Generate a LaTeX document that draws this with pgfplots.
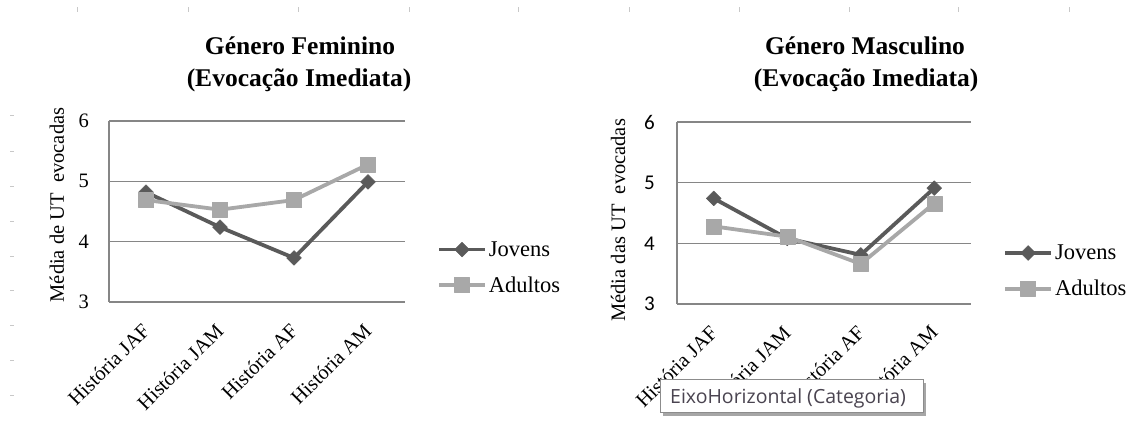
\documentclass[border=0pt]{standalone}
\usepackage{fontspec}
\setmainfont{Liberation Serif}
\newfontfamily\carlito{Carlito}
\newfontfamily\tipfont{Open Sans}
\usepackage{pgfplots}
\pgfplotsset{compat=1.18}
\definecolor{jov}{HTML}{5A5A5A}
\definecolor{adu}{HTML}{A8A8A8}
\definecolor{gridc}{HTML}{868686}
\definecolor{tipc}{HTML}{4A4450}
\definecolor{ruler}{HTML}{C8C8C8}

\pgfplotsset{
  panel/.style={
    scale only axis,
    xmin=-0.5, xmax=3.5, ymin=3, ymax=6,
    xtick={0,1,2,3},
    xticklabels={História JAF,História JAM,História AF,História AM},
    ytick={3,4,5,6}, yticklabels={3,4,5,6},
    axis x line*=bottom, axis y line*=left,
    axis line style={draw=gridc, line width=1.3pt, -},
    ymajorgrids, grid style={draw=gridc, line width=1.3pt},
    major tick length=0pt,
    x tick label style={font=\fontsize{20.5}{24}\selectfont, inner sep=0pt, anchor=east, yshift=-25pt, rotate=45},
    clip=false,
    legend cell align=left,
    legend image code/.code={
      \draw[mark repeat=2,mark phase=2,##1] plot coordinates {(0pt,0pt) (23pt,0pt) (46pt,0pt)};
    },
  },
  jovens/.style={color=jov, line width=3.8pt, line join=round, mark=square*, mark size=5.2pt, mark options={rotate=45, line width=0.5pt, fill=jov, draw=jov}},
  adultos/.style={color=adu, line width=3.8pt, line join=round, mark=square*, mark size=7.5pt, mark options={line width=0.5pt, fill=adu, draw=adu}},
}

\begin{document}
\begin{tikzpicture}
\path[use as bounding box] (0,0) rectangle (1147pt,425pt);

% faint ruler marks of the screenshot
\foreach \x in {77,188,298,409,518,629,739,849,958,1069}
  \draw[ruler, line width=0.8pt] (\x pt,413pt) -- (\x pt,418pt);
\foreach \y in {310,274,239,204,169,135,100,65,30}
  \draw[ruler, line width=0.8pt] (10pt,\y pt) -- (14pt,\y pt);

% Left panel
\begin{axis}[panel,
  at={(109pt,123pt)}, anchor=south west, width=296pt, height=181pt,
  y tick label style={font=\fontsize{20.5}{24}\selectfont, inner sep=0pt, anchor=east, xshift=-20pt},
  ylabel={Média de UT\ \ evocadas},
  every axis y label/.style={at={(axis description cs:-0.176,0.536)}, rotate=90, anchor=center, font=\fontsize{20.5}{24}\selectfont},
  legend style={draw=none, fill=none, font=\fontsize{22.5}{26}\selectfont, at={(1.108,0.19)}, anchor=west, inner sep=0pt, row sep=15pt},
]
\addplot[jovens] coordinates {(0,4.82) (1,4.24) (2,3.73) (3,4.99)};
\addlegendentry{Jovens}
\addplot[adultos] coordinates {(0,4.69) (1,4.53) (2,4.69) (3,5.28)};
\addlegendentry{Adultos}
\end{axis}

% Right panel
\begin{axis}[panel,
  at={(677pt,121pt)}, anchor=south west, width=294pt, height=182pt,
  y tick label style={font=\carlito\fontsize{21}{24}\selectfont, inner sep=0pt, anchor=east, xshift=-22pt},
  ylabel={Média das UT\ \ evocadas},
  every axis y label/.style={at={(axis description cs:-0.2007,0.46)}, rotate=90, anchor=center, font=\fontsize{20.5}{24}\selectfont},
  legend style={draw=none, fill=none, font=\fontsize{22.5}{26}\selectfont, at={(1.109,0.181)}, anchor=west, inner sep=0pt, row sep=15pt},
]
\addplot[jovens] coordinates {(0,4.74) (1,4.08) (2,3.81) (3,4.91)};
\addlegendentry{Jovens}
\addplot[adultos] coordinates {(0,4.28) (1,4.11) (2,3.66) (3,4.66)};
\addlegendentry{Adultos}
\end{axis}

% Titles
\node[anchor=base, font=\bfseries\fontsize{25.5}{30}\selectfont] at (300pt,370pt) {Género Feminino};
\node[anchor=base, font=\bfseries\fontsize{25.5}{30}\selectfont] at (299pt,338pt) {(Evocação Imediata)};
\node[anchor=base, font=\bfseries\fontsize{25.5}{30}\selectfont] at (865pt,370pt) {Género Masculino};
\node[anchor=base, font=\bfseries\fontsize{25.5}{30}\selectfont] at (866pt,338pt) {(Evocação Imediata)};

% Tooltip
\fill[black!35] (663pt,9pt) rectangle (926pt,42pt);
\filldraw[fill=white, draw=black!45, line width=1pt] (660pt,12pt) rectangle (923pt,45pt);
\node[anchor=base west, inner sep=0pt, text=tipc, font=\tipfont\fontsize{19.5}{23}\selectfont] at (670pt,21pt) {EixoHorizontal (Categoria)};
\end{tikzpicture}
\end{document}
